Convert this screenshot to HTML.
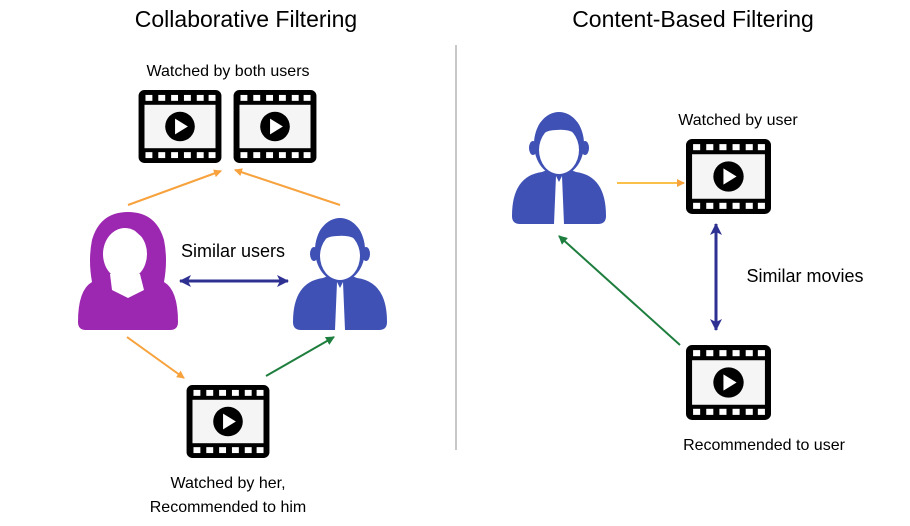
<!DOCTYPE html>
<html><head><style>
body{margin:0;background:#fff;width:910px;height:521px;overflow:hidden;font-family:"Liberation Sans",sans-serif}
</style></head><body>
<svg width="910" height="521" viewBox="0 0 910 521" xmlns="http://www.w3.org/2000/svg">
<defs>
<symbol id="film" viewBox="0 0 84 74">
<rect x="0" y="0" width="84" height="74" rx="6" fill="#000"/>
<rect x="6" y="15" width="72" height="44" fill="#f5f5f5"/>
<g fill="#fff">
<rect x="7" y="5" width="7" height="6"/><rect x="20" y="5" width="7" height="6"/><rect x="33" y="5" width="7" height="6"/><rect x="46" y="5" width="7" height="6"/><rect x="59" y="5" width="7" height="6"/><rect x="71" y="5" width="7" height="6"/>
<rect x="7" y="63" width="7" height="6"/><rect x="20" y="63" width="7" height="6"/><rect x="33" y="63" width="7" height="6"/><rect x="46" y="63" width="7" height="6"/><rect x="59" y="63" width="7" height="6"/><rect x="71" y="63" width="7" height="6"/>
</g>
<circle cx="42" cy="37" r="15" fill="#000"/>
<path d="M37 29 L50 37 L37 45Z" fill="#fff"/>
</symbol>
<symbol id="man" viewBox="0 0 94 118">
<path d="M0 110 Q0 70 30 66 L40 62 L47 70 L54 62 L64 66 Q94 70 94 110 Q94 118 86 118 L8 118 Q0 118 0 110Z" fill="#3f51b5"/>
<path d="M44 70 L50 70 L52 118 L42 118Z" fill="#fff"/>
<path d="M44 70 L47 76 L50 70" fill="#3f51b5"/>
<ellipse cx="47" cy="38" rx="25" ry="32" fill="#3f51b5"/>
<ellipse cx="47" cy="44" rx="20" ry="24" fill="#fff"/>
<path d="M24 36 Q22 10 47 8 Q72 10 70 36 Q64 22 44 24 Q30 24 24 36Z" fill="#3f51b5"/>
<ellipse cx="21" cy="42" rx="4" ry="7" fill="#3f51b5"/><ellipse cx="73" cy="42" rx="4" ry="7" fill="#3f51b5"/>
</symbol>
<symbol id="woman" viewBox="0 0 100 120">
<path d="M0 112 Q0 80 14 72 Q10 50 14 30 Q22 2 50 2 Q78 2 86 30 Q90 50 86 72 Q100 80 100 112 Q100 120 92 120 L8 120 Q0 120 0 112Z" fill="#9c27b0"/>
<ellipse cx="47" cy="44" rx="22" ry="26" fill="#fff"/>
<path d="M32 64 L62 64 L66 80 L50 88 L34 80Z" fill="#fff"/>
<path d="M25 40 Q30 14 52 16 Q60 24 72 34 Q66 10 48 10 Q26 12 25 40Z" fill="#9c27b0"/>
</symbol>
<marker id="ao" markerWidth="8" markerHeight="8" refX="7" refY="4" orient="auto" markerUnits="userSpaceOnUse"><path d="M0 0 L8 4 L0 8Z" fill="#f7a23c"/></marker>
<marker id="ag" markerWidth="9" markerHeight="9" refX="8" refY="4.5" orient="auto" markerUnits="userSpaceOnUse"><path d="M0 0 L9 4.5 L0 9Z" fill="#1e7e3e"/></marker>
<marker id="ap" markerWidth="12" markerHeight="12" refX="11" refY="6" orient="auto-start-reverse" markerUnits="userSpaceOnUse"><path d="M0 0 L12 6 L0 12 L3 6Z" fill="#2e3192"/></marker>
</defs>
<text x="246" y="27" font-size="23" text-anchor="middle" fill="#000">Collaborative Filtering</text>
<text x="693" y="27" font-size="23" text-anchor="middle" fill="#000">Content-Based Filtering</text>
<line x1="456" y1="45" x2="456" y2="450" stroke="#c8c8c8" stroke-width="2"/>
<text x="228" y="76" font-size="16" text-anchor="middle">Watched by both users</text>
<use href="#film" x="138" y="90" width="84" height="73"/>
<use href="#film" x="233" y="90" width="84" height="73"/>
<use href="#film" x="186" y="385" width="84" height="73"/>
<use href="#woman" x="78" y="210" width="100" height="120"/>
<use href="#man" x="293" y="212" width="94" height="118"/>
<text x="233" y="257" font-size="18" text-anchor="middle">Similar users</text>
<line x1="180" y1="281" x2="288" y2="281" stroke="#2e3192" stroke-width="3" marker-start="url(#ap)" marker-end="url(#ap)"/>
<line x1="128" y1="205" x2="221" y2="171" stroke="#f7a23c" stroke-width="2" marker-end="url(#ao)"/>
<line x1="340" y1="205" x2="235" y2="170" stroke="#f7a23c" stroke-width="2" marker-end="url(#ao)"/>
<line x1="127" y1="337" x2="184" y2="378" stroke="#f7a23c" stroke-width="2" marker-end="url(#ao)"/>
<line x1="266" y1="376" x2="334" y2="337" stroke="#1e7e3e" stroke-width="2" marker-end="url(#ag)"/>
<text x="228" y="488" font-size="16" text-anchor="middle">Watched by her,</text>
<text x="228" y="512" font-size="16" text-anchor="middle">Recommended to him</text>
<use href="#man" x="512" y="106" width="94" height="118"/>
<text x="738" y="125" font-size="16" text-anchor="middle">Watched by user</text>
<use href="#film" x="686" y="139" width="85" height="75"/>
<use href="#film" x="686" y="345" width="85" height="75"/>
<line x1="617" y1="183" x2="684" y2="183" stroke="#fbc04a" stroke-width="2" marker-end="url(#ao)"/>
<line x1="716" y1="224" x2="716" y2="330" stroke="#2e3192" stroke-width="3" marker-start="url(#ap)" marker-end="url(#ap)"/>
<text x="805" y="282" font-size="18" text-anchor="middle">Similar movies</text>
<line x1="680" y1="345" x2="559" y2="236" stroke="#1e7e3e" stroke-width="2" marker-end="url(#ag)"/>
<text x="764" y="450" font-size="16" text-anchor="middle">Recommended to user</text>
</svg>
</body></html>
